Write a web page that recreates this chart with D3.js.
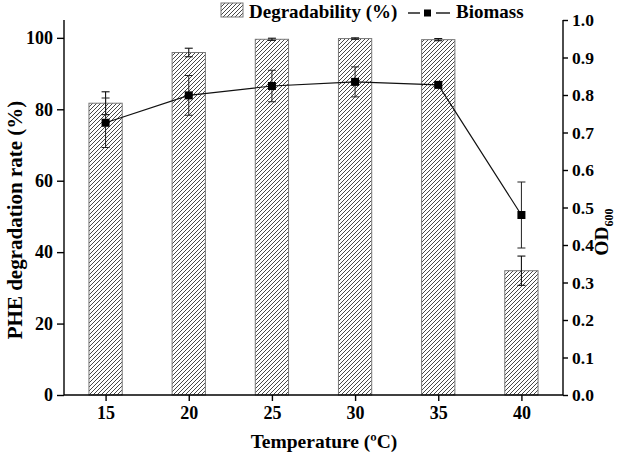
<!DOCTYPE html>
<html><head><meta charset="utf-8">
<script src="https://cdn.jsdelivr.net/npm/d3@7"></script>
<style>body{margin:0;background:#fff}svg{display:block}text{font-family:"Liberation Serif","Times New Roman",serif;font-weight:bold;fill:#000}</style>
</head><body><svg id="c" width="630" height="455"></svg>
<script>
const temps = [15, 20, 25, 30, 35, 40];
const degradability = [81.7, 95.9, 99.6, 99.8, 99.5, 34.8];
const degradErr = [3.2, 1.2, 0.3, 0.2, 0.3, 4.1];
const biomass = [0.726, 0.799, 0.824, 0.835, 0.827, 0.48];
const biomassErr = [0.066, 0.053, 0.042, 0.04, 0.006, 0.088];
const leftTicks = [0, 20, 40, 60, 80, 100];
const rightTicks = [0, 0.1, 0.2, 0.3, 0.4, 0.5, 0.6, 0.7, 0.8, 0.9, 1.0];

const svg = d3.select("#c");
const x = d3.scaleLinear().domain([12.5, 42.5]).range([64, 563]);
const yL = d3.scaleLinear().domain([0, 105]).range([395, 20]);
const yR = d3.scaleLinear().domain([0, 1.0]).range([395, 20]);
const barW = x(17) - x(15);

const defs = svg.append("defs");
const pat = defs.append("pattern").attr("id","hatch").attr("patternUnits","userSpaceOnUse")
  .attr("width",4).attr("height",4);
pat.append("rect").attr("width",4).attr("height",4).attr("fill","#fff");
pat.append("path").attr("d","M-1,1 l2,-2 M0,4 l4,-4 M3,5 l2,-2").attr("stroke","#333").attr("stroke-width",0.9);

// bars
svg.append("g").selectAll("rect").data(temps).join("rect")
  .attr("x", (d)=>x(d)-barW/2).attr("width", barW)
  .attr("y", (d,i)=>yL(degradability[i])).attr("height",(d,i)=>yL(0)-yL(degradability[i]))
  .attr("fill","url(#hatch)").attr("stroke","#777").attr("stroke-width",1);

// bar error bars
const eb = svg.append("g").attr("stroke","#111").attr("stroke-width",1.1);
temps.forEach((t,i)=>{
  const cx = x(t), y1 = yL(degradability[i]+degradErr[i]), y2 = yL(degradability[i]-degradErr[i]);
  eb.append("line").attr("x1",cx).attr("x2",cx).attr("y1",y1).attr("y2",y2);
  eb.append("line").attr("x1",cx-4).attr("x2",cx+4).attr("y1",y1).attr("y2",y1);
  eb.append("line").attr("x1",cx-4).attr("x2",cx+4).attr("y1",y2).attr("y2",y2);
});

// biomass error bars
const eb2 = svg.append("g").attr("stroke","#222").attr("stroke-width",1);
temps.forEach((t,i)=>{
  const cx = x(t), y1 = yR(biomass[i]+biomassErr[i]), y2 = yR(biomass[i]-biomassErr[i]);
  eb2.append("line").attr("x1",cx).attr("x2",cx).attr("y1",y1).attr("y2",y2);
  eb2.append("line").attr("x1",cx-4).attr("x2",cx+4).attr("y1",y1).attr("y2",y1);
  eb2.append("line").attr("x1",cx-4).attr("x2",cx+4).attr("y1",y2).attr("y2",y2);
});

// biomass line
const line = d3.line().x((d,i)=>x(temps[i])).y(d=>yR(d));
svg.append("path").datum(biomass).attr("d", line).attr("fill","none").attr("stroke","#111").attr("stroke-width",1.2);
svg.append("g").selectAll("rect").data(biomass).join("rect")
  .attr("x",(d,i)=>x(temps[i])-4).attr("y",d=>yR(d)-4).attr("width",8).attr("height",8).attr("fill","#000");

// axes
const axB = svg.append("g").attr("transform","translate(0,395)")
  .call(d3.axisBottom(x).tickValues(temps).tickSize(6).tickPadding(5));
const axL = svg.append("g").attr("transform","translate(64,0)")
  .call(d3.axisLeft(yL).tickValues(leftTicks).tickSize(7).tickPadding(4));
const axR = svg.append("g").attr("transform","translate(563,0)")
  .call(d3.axisRight(yR).tickValues(rightTicks).tickFormat(d3.format(".1f")).tickSize(5).tickPadding(4));
[axB, axL, axR].forEach(a=>{
  a.select(".domain").attr("stroke","#000").attr("stroke-width",1.4);
  a.selectAll(".tick line").attr("stroke","#000").attr("stroke-width",1.4);
  a.selectAll("text").style("font-family",'"Liberation Serif",serif').style("font-weight","bold").attr("font-size","18px").attr("fill","#000");
});
axB.select(".domain").attr("d","M64,0H563");
axL.select(".domain").attr("d","M0,20V395");
axR.select(".domain").attr("d","M0,20V395");
axR.selectAll("text").attr("font-size","17.5px");

// axis titles
svg.append("text").attr("x",324).attr("y",448).attr("text-anchor","middle").attr("font-size","19.5px").text("Temperature (ºC)");
svg.append("text").attr("transform","translate(22,220) rotate(-90)").attr("text-anchor","middle").attr("font-size","21px").text("PHE degradation rate (%)");
const od = svg.append("text").attr("transform","translate(608,232) rotate(-90)").attr("text-anchor","middle").attr("font-size","19.5px");
od.append("tspan").text("OD");
od.append("tspan").attr("font-size","12px").attr("dy","5").text("600");

// legend
svg.append("rect").attr("x",221).attr("y",3).attr("width",22).attr("height",14).attr("fill","url(#hatch)").attr("stroke","#777");
svg.append("text").attr("x",249).attr("y",18).attr("font-size","19px").text("Degradability (%)");
svg.append("line").attr("x1",408).attr("x2",420).attr("y1",13).attr("y2",13).attr("stroke","#111").attr("stroke-width",1.4);
svg.append("rect").attr("x",424).attr("y",9.5).attr("width",7).attr("height",7).attr("fill","#000");
svg.append("line").attr("x1",436).attr("x2",450).attr("y1",13).attr("y2",13).attr("stroke","#111").attr("stroke-width",1.4);
svg.append("text").attr("x",456).attr("y",18).attr("font-size","19px").text("Biomass");
</script></body></html>
